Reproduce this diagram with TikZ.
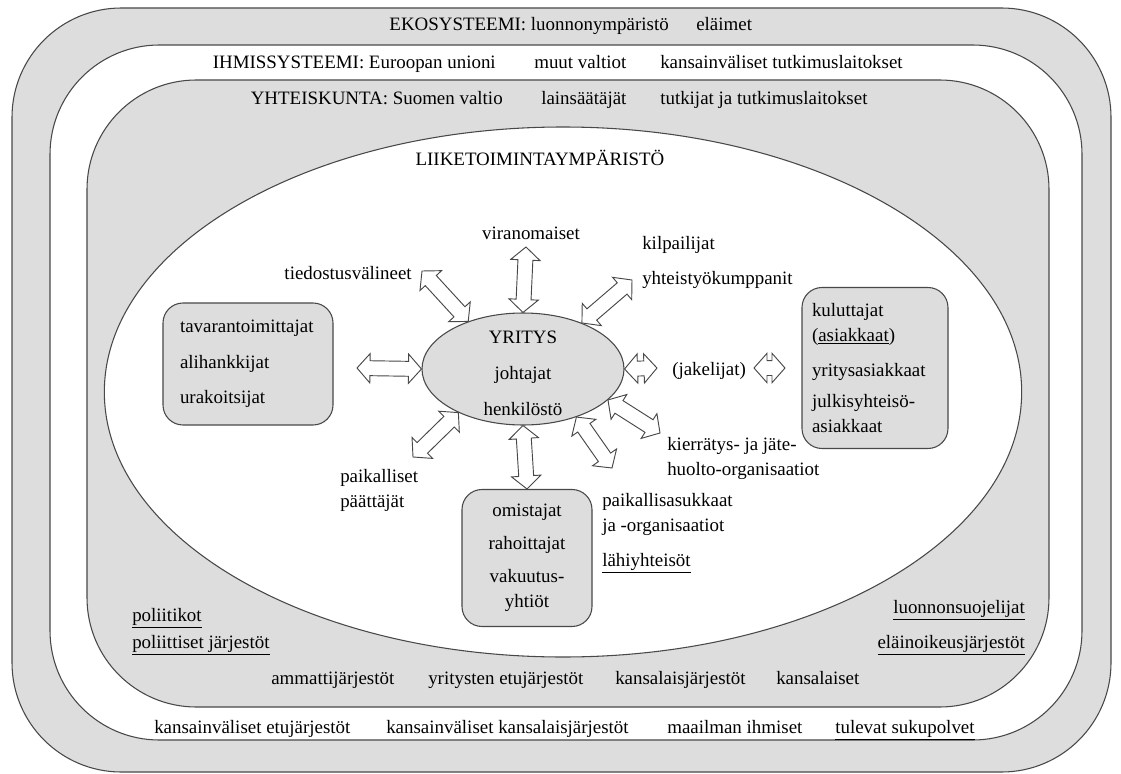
\documentclass[tikz,border=0pt]{standalone}
\usepackage{fontspec}
\setmainfont{Liberation Serif}
\usetikzlibrary{calc,shapes.geometric}

\definecolor{harmaa}{RGB}{221,221,221}
\definecolor{viiva}{RGB}{72,72,72}

% kaksipainen nuoli kahden pisteen valilla
\newcommand{\kaksinuoli}[2]{%
  \path (#1) coordinate (n1) ($(#1)!9.75pt!(#2)$) coordinate (n2)
        ($(#2)!9.75pt!(#1)$) coordinate (n3) (#2) coordinate (n4);
  \draw[nuoli] (n1) -- ($(n2)!11pt!90:(n4)$) -- ($(n2)!5.6pt!90:(n4)$)
    -- ($(n3)!5.6pt!90:(n4)$) -- ($(n3)!11pt!90:(n4)$) -- (n4)
    -- ($(n3)!11pt!-90:(n4)$) -- ($(n3)!5.6pt!-90:(n4)$)
    -- ($(n2)!5.6pt!-90:(n4)$) -- ($(n2)!11pt!-90:(n4)$) -- cycle;}

\begin{document}
\begin{tikzpicture}[x=0.75pt,y=-0.75pt,
  teksti/.style={font=\rmfamily\fontsize{14.2}{18.75}\selectfont, inner sep=0pt},
  kaista/.style={draw=viiva, line width=0.8pt, rounded corners=82pt},
  laatikko/.style={teksti, draw=viiva, fill=harmaa, line width=0.8pt, rounded corners=15pt},
  nuoli/.style={draw=viiva, fill=white, line width=0.7pt, line join=miter}]
\useasboundingbox (0,0) rectangle (1121,774);
% kaistat
\draw[kaista, fill=harmaa] (12,8) rectangle (1111,772);
\draw[kaista, fill=white] (50,45) rectangle (1082,740);
\draw[kaista, fill=harmaa] (87,80) rectangle (1049,707);
\draw[draw=viiva, line width=0.8pt, fill=white] (563,392) ellipse [x radius=344pt, y radius=198.75pt];

% ylarivit
\node[teksti, anchor=base east] (eko) at (669,31) {EKOSYSTEEMI: luonnonympäristö};
\node[teksti, anchor=base west] (elaimet) at (696,31) {eläimet};
\node[teksti, anchor=base east] (ihmis) at (496,69) {IHMISSYSTEEMI: Euroopan unioni};
\node[teksti, anchor=base west] (valtiot) at (534,69) {muut valtiot};
\node[teksti, anchor=base west] (tutklait) at (660,69) {kansainväliset tutkimuslaitokset};
\node[teksti, anchor=base east] (yhteis) at (503,104) {YHTEISKUNTA: Suomen valtio};
\node[teksti, anchor=base west] (lainsaat) at (541,104) {lainsäätäjät};
\node[teksti, anchor=base west] (tutkijat) at (660,104) {tutkijat ja tutkimuslaitokset};
\node[teksti, anchor=base] (liike) at (540,166) {LIIKETOIMINTAYMPÄRISTÖ};

% yritys ja laatikot
\node[ellipse, draw=viiva, fill=harmaa, line width=0.8pt, minimum width=151.5pt, minimum height=84pt, inner sep=0pt] (yritys) at (523,369) {};
\node[teksti, align=center] (yritysteksti) at (523,373) {YRITYS\\[8.25pt]johtajat\\[8.25pt]henkilöstö};
\node[laatikko, minimum width=127.5pt, minimum height=91.5pt, text width=102pt, align=left] (toimittajat) at (248,364)
  {tavarantoimittajat\\[8pt]alihankkijat\\[8pt]urakoitsijat};
\node[laatikko, minimum width=109.5pt, minimum height=120.75pt, text width=94.5pt, align=left] (asiakkaat) at (875,368)
  {kuluttajat\\(\underline{asiakkaat})\\[7.5pt]yritysasiakkaat\\[4.5pt]julkisyhteisö-\\asiakkaat};
\node[laatikko, minimum width=97.5pt, minimum height=102.75pt, align=center] (omistajat) at (527,558)
  {omistajat\\[5.5pt]rahoittajat\\[6.5pt]vakuutus-\\yhtiöt};

% sidosryhmat
\node[teksti, anchor=base] (viranom) at (531,239) {viranomaiset};
\node[teksti, anchor=base west] (kilpailijat) at (642,249) {kilpailijat};
\node[teksti, anchor=base west] (yhteistyo) at (642,284) {yhteistyökumppanit};
\node[teksti, anchor=base east] (tiedotus) at (412,279) {tiedostusvälineet};
\node[teksti, anchor=base west] (jakelijat) at (672,375) {(jakelijat)};
\node[teksti, anchor=west, align=left] (kierratys) at (667,458) {kierrätys- ja jäte-\\huolto-organisaatiot};
\node[teksti, anchor=west, align=left] (paattajat) at (340,490) {paikalliset\\päättäjät};
\node[teksti, anchor=west, align=left] (asukkaat) at (602,514) {paikallisasukkaat\\ja -organisaatiot};
\node[teksti, anchor=base west] (lahiyht) at (602,566) {\underline{lähiyhteisöt}};

% alarivit
\node[teksti, anchor=base west] (poliitikot) at (132,621) {\underline{poliitikot}};
\node[teksti, anchor=base west] (poljarj) at (132,648) {\underline{poliittiset järjestöt}};
\node[teksti, anchor=base east] (luonnon) at (1025,613) {\underline{luonnonsuojelijat}};
\node[teksti, anchor=base east] (elainoik) at (1025,648) {\underline{eläinoikeusjärjestöt}};
\node[teksti, anchor=base west] (ammatti) at (271,684) {ammattijärjestöt};
\node[teksti, anchor=base west] (yritetu) at (428,684) {yritysten etujärjestöt};
\node[teksti, anchor=base west] (kansjarj) at (615,684) {kansalaisjärjestöt};
\node[teksti, anchor=base west] (kansalaiset) at (776,684) {kansalaiset};
\node[teksti, anchor=base west] (kvetu) at (154,733) {kansainväliset etujärjestöt};
\node[teksti, anchor=base west] (kvkans) at (386,733) {kansainväliset kansalaisjärjestöt};
\node[teksti, anchor=base west] (maailma) at (667,733) {maailman ihmiset};
\node[teksti, anchor=base west] (tulevat) at (835,733) {\underline{tulevat sukupolvet}};

% nuolet
\coordinate (virak) at (526,247);
\coordinate (tiedk) at (422,271);
\coordinate (kilpk) at (632,280);
\coordinate (toimk) at (357,368);
\coordinate (jakek1) at (657,368);
\coordinate (jakek2) at (754,368);
\coordinate (jakek3) at (785,368);
\coordinate (kierk) at (660,433);
\coordinate (asukk) at (612,468);
\coordinate (paatk) at (413,457);
\kaksinuoli{yritys.north}{virak}
\kaksinuoli{yritys.139}{tiedk}
\kaksinuoli{yritys.38}{kilpk}
\kaksinuoli{yritys.west}{toimk}
\kaksinuoli{yritys.east}{jakek1}
\kaksinuoli{jakek2}{jakek3}
\kaksinuoli{yritys.340}{kierk}
\kaksinuoli{yritys.318}{asukk}
\kaksinuoli{yritys.south}{omistajat.north}
\kaksinuoli{yritys.214}{paatk}
\end{tikzpicture}
\end{document}
